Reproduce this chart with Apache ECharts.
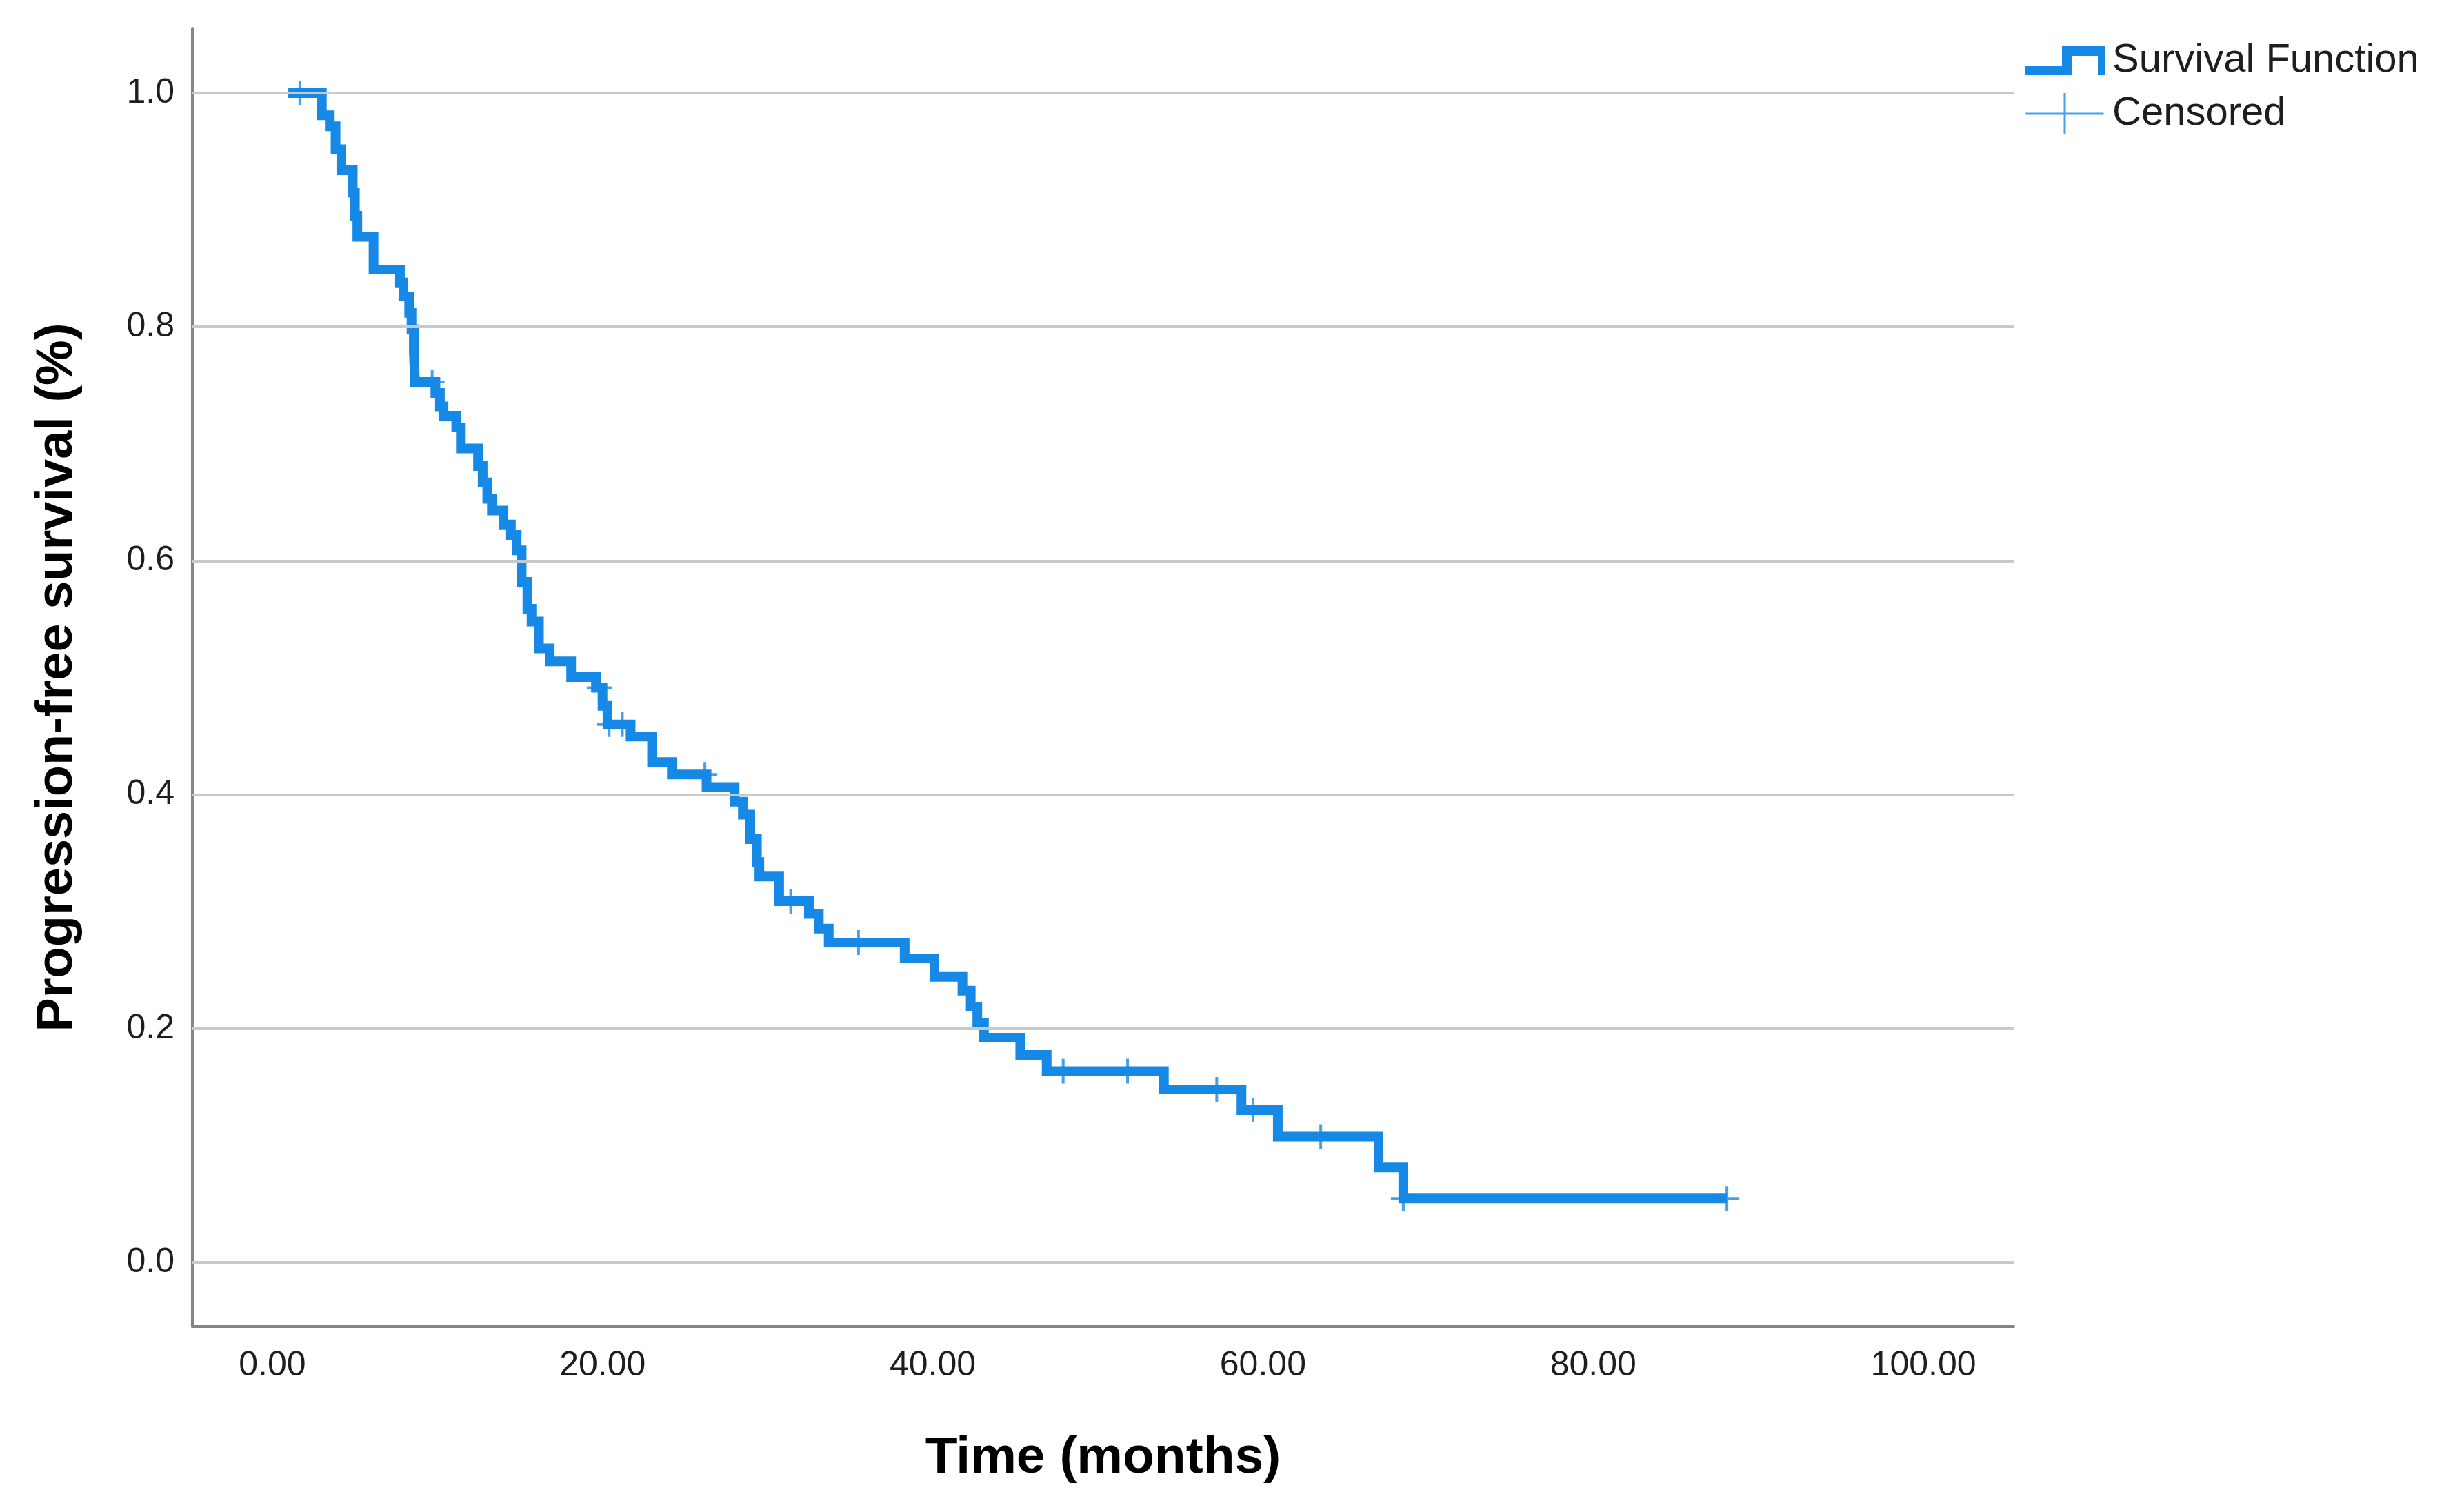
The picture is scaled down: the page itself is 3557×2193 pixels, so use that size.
<!DOCTYPE html>
<html>
<head>
<meta charset="utf-8">
<script src="https://cdn.jsdelivr.net/npm/echarts@6/dist/echarts.min.js"></script>
<style>
  html, body { margin: 0; padding: 0; background: #ffffff; }
  #chart { width: 3557px; height: 2193px; }
</style>
</head>
<body>
<div id="chart"></div>
<script>
// Kaplan-Meier step curve: time (months) and survival level that starts at that time
const times = [0.97, 3.0, 3.48, 3.83, 4.18, 4.87, 5.0, 5.15, 6.13, 7.73, 7.94, 8.29, 8.43, 8.57, 8.64,
  9.88, 10.15, 10.37, 11.14, 11.42, 12.46, 12.74, 13.02, 13.3, 14.0, 14.45, 14.8, 15.1, 15.45, 15.7,
  16.15, 16.8, 18.1, 19.6, 20.0, 20.3, 21.7, 23.0, 24.2, 26.3, 28.0, 28.5, 28.95, 29.35, 29.5, 30.7,
  32.5, 33.1, 33.7, 38.3, 40.1, 41.8, 42.3, 42.7, 43.1, 45.3, 46.9, 54.0, 58.7, 60.9, 67.0, 68.5, 88.1];
const survival = [1.0, 0.981, 0.9715, 0.952, 0.934, 0.915, 0.895, 0.877, 0.849, 0.838, 0.826, 0.812, 0.798, 0.779, 0.753,
  0.7435, 0.732, 0.724, 0.714, 0.696, 0.681, 0.667, 0.653, 0.643, 0.631, 0.622, 0.609, 0.582, 0.559, 0.548,
  0.525, 0.514, 0.5006, 0.4915, 0.476, 0.46, 0.4497, 0.428, 0.4173, 0.4065, 0.394, 0.383, 0.362, 0.3425, 0.33, 0.309,
  0.298, 0.2855, 0.2736, 0.26, 0.2443, 0.2325, 0.2188, 0.2051, 0.1922, 0.1775, 0.1637, 0.148, 0.1303, 0.1077, 0.0812, 0.0547, 0.0547];

// Censored observations
const censorTimes = [1.67, 9.68, 19.8, 20.4, 21.2, 26.2, 31.4, 35.5, 47.9, 51.8, 57.2, 59.4, 63.5, 68.5, 88.1];
const censorSurv  = [1.0, 0.753, 0.4915, 0.46, 0.46, 0.4173, 0.309, 0.2736, 0.1637, 0.1637, 0.148, 0.1303, 0.1077, 0.0547, 0.0547];

// Tick labels
const xTicks = [0, 20, 40, 60, 80, 100];
const yTicks = [0, 0.2, 0.4, 0.6, 0.8, 1.0];

const seriesNames = ['Survival Function', 'Censored'];
const xTitle = 'Time (months)';
const yTitle = 'Progression-free survival (%)';

const BLUE = '#1589e5';
const FONT = '"Liberation Sans", Arial, sans-serif';

const plusPath = 'path://M-2,-18L2,-18L2,-2L18,-2L18,2L2,2L2,18L-2,18L-2,2L-18,2L-18,-2L-2,-2Z';
const survIcon = 'path://M0,29L54,29L54,0L116,0L116,42L106,42L106,14L68,14L68,42L0,42Z';
const censIcon = 'path://M0,28.5L113,28.5L113,31.5L0,31.5Z M55,0L58,0L58,60L55,60Z';

const chart = echarts.init(document.getElementById('chart'), null, { renderer: 'canvas' });

const option = {
  backgroundColor: '#ffffff',
  animation: false,
  grid: { left: 279, right: 637, top: 41, bottom: 269, containLabel: false, outerBoundsMode: 'none' },
  legend: {
    orient: 'vertical',
    left: 2931,
    top: 53,
    itemWidth: 116,
    itemHeight: 60,
    itemGap: 17,
    selectedMode: false,
    symbolKeepAspect: true,
    itemStyle: { borderWidth: 0 },
    textStyle: { fontSize: 58, lineHeight: 60, fontFamily: FONT, color: '#1e1e1e', padding: [0, 0, 0, 6] },
    data: [
      { name: seriesNames[0], icon: survIcon, itemStyle: { color: BLUE, borderWidth: 0 } },
      { name: seriesNames[1], icon: censIcon, itemStyle: { color: BLUE, borderWidth: 0 } }
    ]
  },
  xAxis: {
    type: 'value',
    min: -4.84,
    max: 105.47,
    name: xTitle,
    nameLocation: 'middle',
    nameGap: 154,
    nameTextStyle: { fontSize: 75, fontWeight: 'bold', fontFamily: FONT, color: '#000' },
    axisLine: { show: true, onZero: false, lineStyle: { color: '#858585', width: 4 } },
    axisTick: { show: false },
    splitLine: { show: false },
    axisLabel: {
      customValues: xTicks,
      fontSize: 50,
      fontFamily: FONT,
      color: '#1e1e1e',
      margin: 32,
      formatter: v => Number(v).toFixed(2)
    }
  },
  yAxis: {
    type: 'value',
    min: -0.0548,
    max: 1.0554,
    name: yTitle,
    nameLocation: 'middle',
    nameGap: 158,
    nameRotate: 90,
    nameTextStyle: { fontSize: 74, fontWeight: 'bold', fontFamily: FONT, color: '#000' },
    axisLine: { show: true, onZero: false, lineStyle: { color: '#858585', width: 4 } },
    axisTick: { show: false },
    splitLine: { show: false },
    axisLabel: {
      customValues: yTicks,
      fontSize: 50,
      fontFamily: FONT,
      color: '#1e1e1e',
      margin: 26,
      formatter: v => Number(v).toFixed(1)
    }
  },
  series: [
    {
      name: 'gridlines',
      type: 'line',
      data: [],
      z: 1,
      silent: true,
      markLine: {
        silent: true,
        symbol: ['none', 'none'],
        label: { show: false },
        lineStyle: { color: '#c9c9c9', width: 4, type: 'solid' },
        emphasis: { disabled: true },
        data: yTicks.map(v => ({ yAxis: v }))
      }
    },
    {
      name: seriesNames[0],
      type: 'line',
      step: 'end',
      z: 3,
      showSymbol: false,
      symbol: 'none',
      color: BLUE,
      itemStyle: { color: BLUE, borderWidth: 0 },
      lineStyle: { color: BLUE, width: 14, cap: 'butt', join: 'miter' },
      data: times.map((t, i) => [t, survival[i]])
    },
    {
      name: seriesNames[1],
      type: 'scatter',
      z: 4,
      symbol: plusPath,
      symbolSize: 36,
      color: BLUE,
      itemStyle: { color: BLUE, borderWidth: 0 },
      data: censorTimes.map((t, i) => [t, censorSurv[i]])
    }
  ]
};

chart.setOption(option);
</script>
</body>
</html>
